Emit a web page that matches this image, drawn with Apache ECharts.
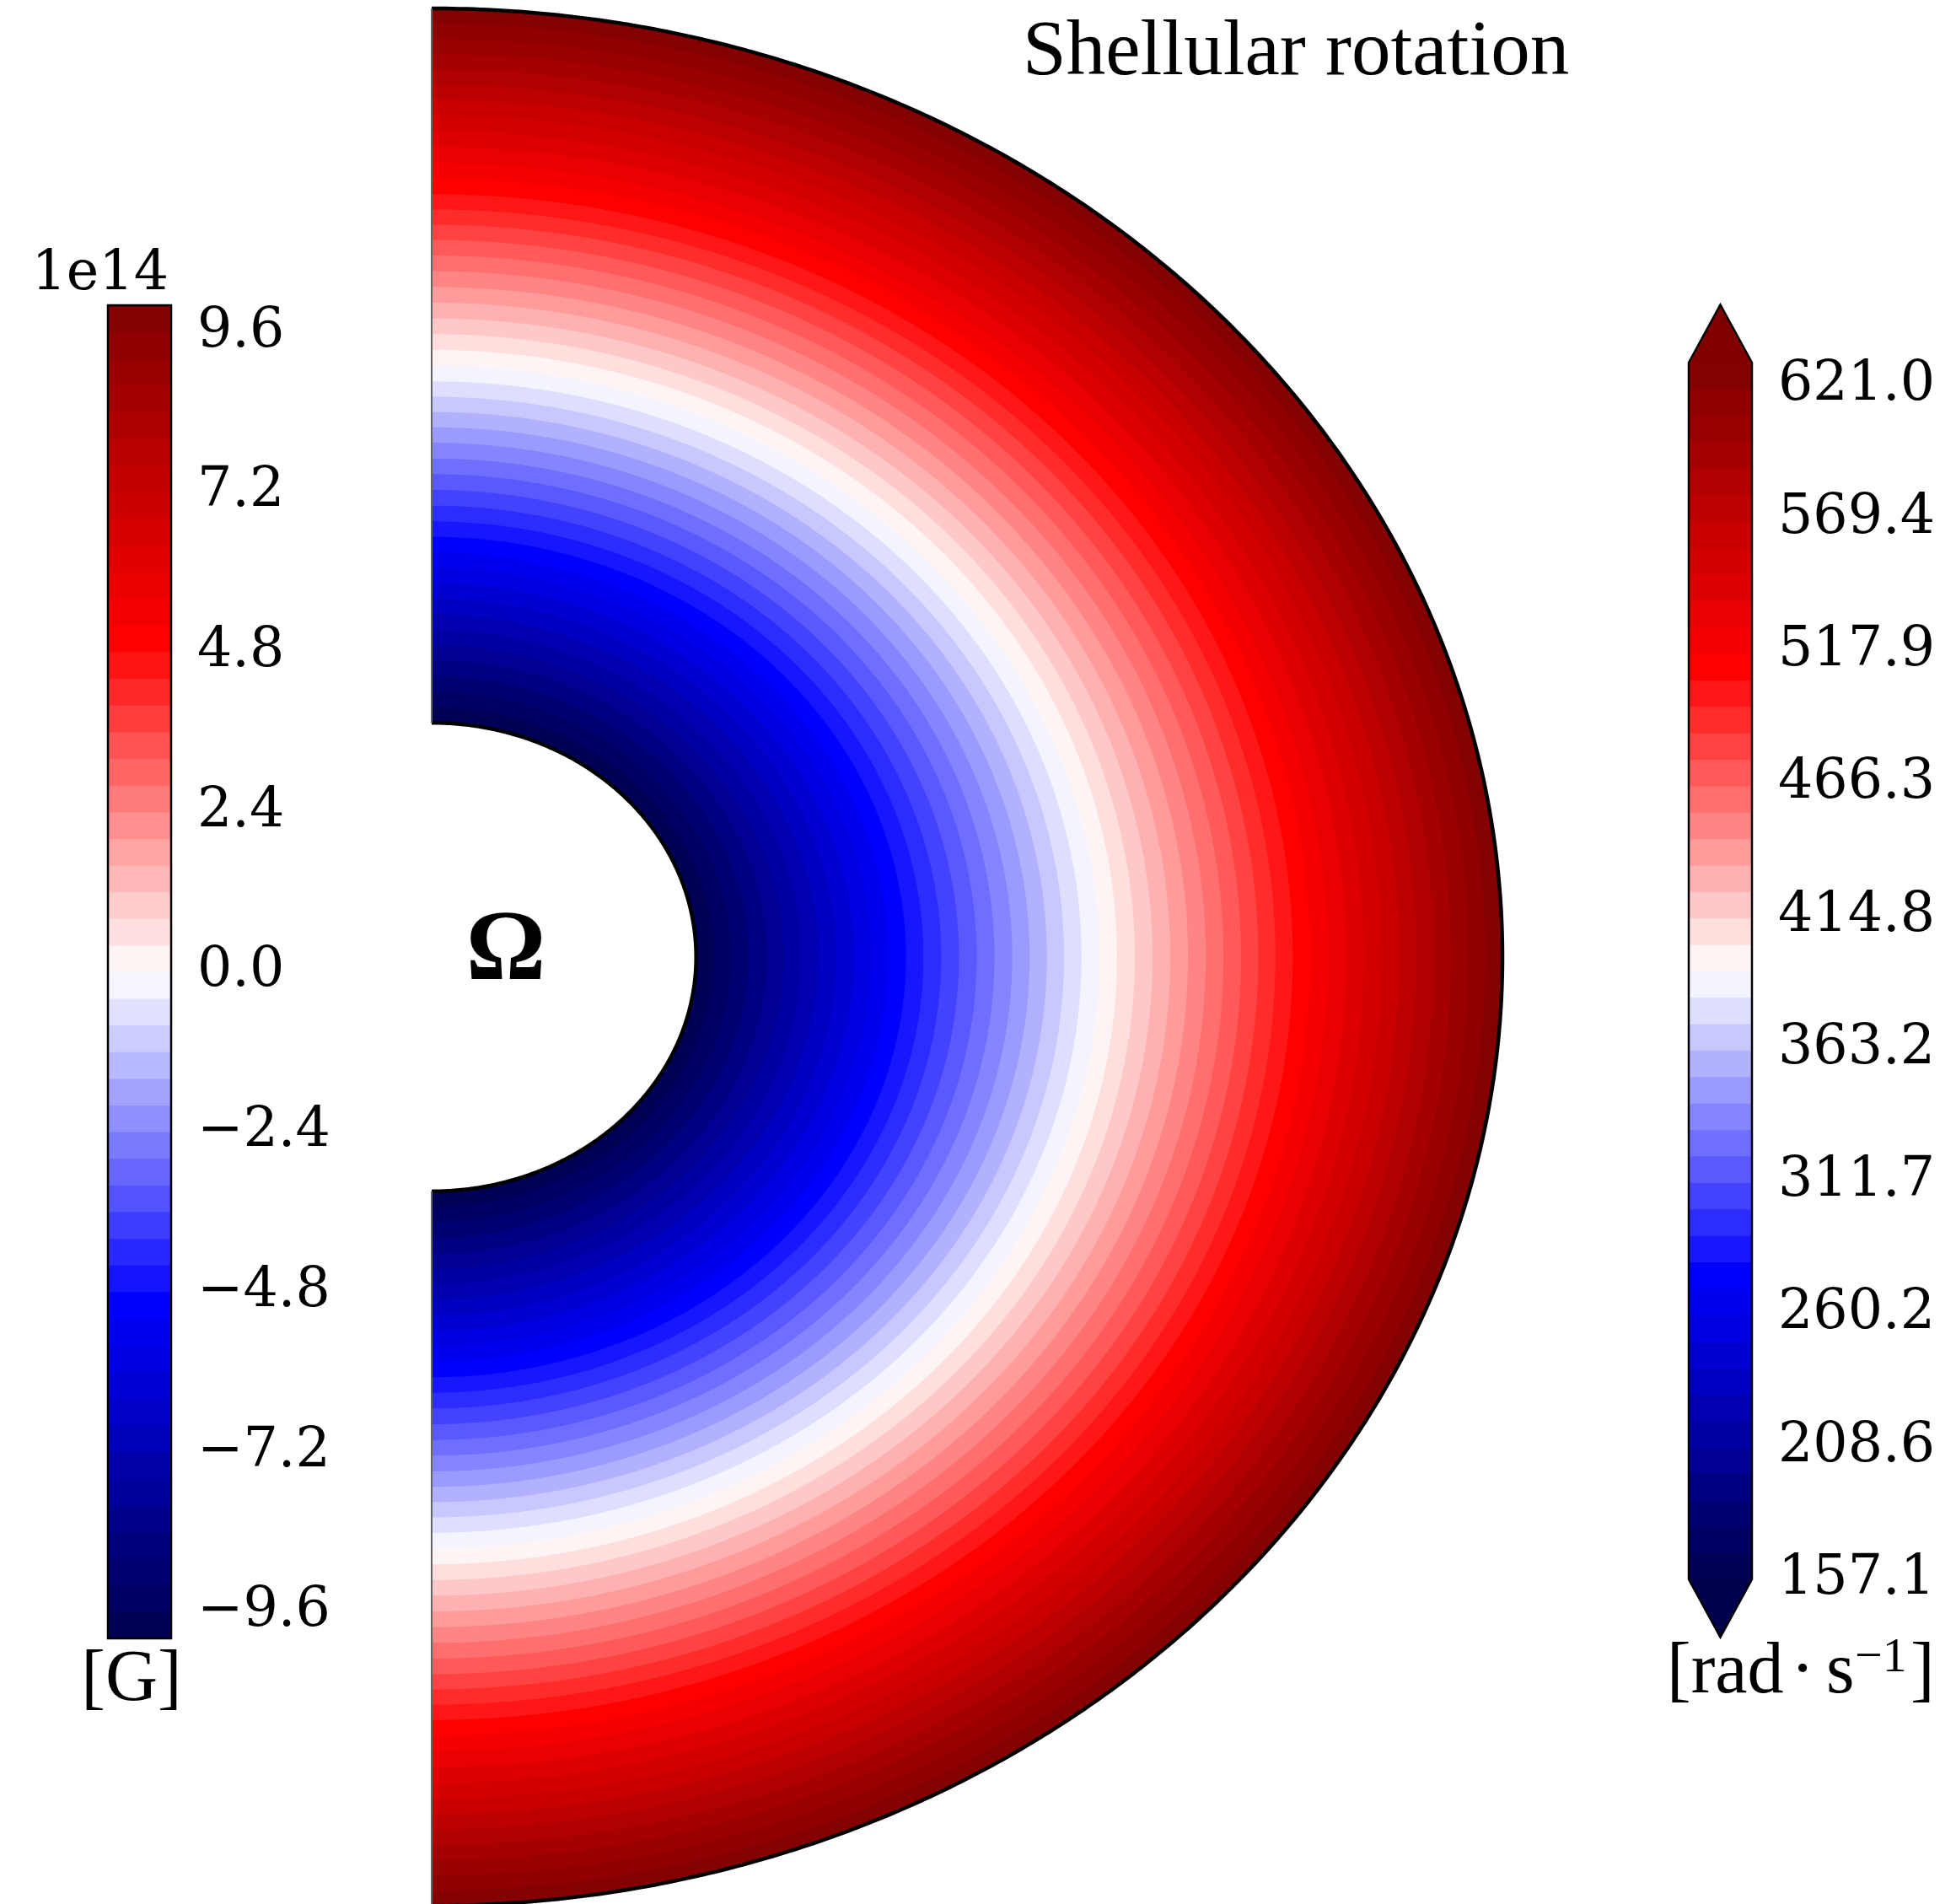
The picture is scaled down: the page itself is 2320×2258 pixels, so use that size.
<!DOCTYPE html>
<html>
<head>
<meta charset="utf-8">
<script src="https://cdn.jsdelivr.net/npm/echarts@6/dist/echarts.min.js"></script>
<style>
  html, body { margin: 0; padding: 0; background: #fff; }
  #chart { width: 2320px; height: 2258px; }
</style>
</head>
<body>
<div id="chart"></div>
<script>
// Shellular angular velocity profile Ω(r); r is normalised to the outer radius
const radius = [0.247, 0.30, 0.35, 0.40, 0.45, 0.50, 0.55, 0.60, 0.65, 0.70, 0.75, 0.80, 0.85, 0.90, 0.95, 1.00];
const omega  = [157, 190, 222, 253, 285, 316, 347, 379, 410, 441, 472, 504, 535, 566, 598, 630];

// Colour-bar tick labels
const omegaTicks = [157.1, 208.6, 260.2, 311.7, 363.2, 414.8, 466.3, 517.9, 569.4, 621.0];
const fieldTicks = [-9.6, -7.2, -4.8, -2.4, 0.0, 2.4, 4.8, 7.2, 9.6];

// Filled-contour level ranges and band counts
const omegaRange = [157.1, 630.0];
const omegaBands = 46;
const fieldRange = [-10, 10];
const fieldBands = 50;

// "seismic" colour map
const SEISMIC = [[0, 0, 76.5], [0, 0, 255], [255, 255, 255], [255, 0, 0], [127.5, 0, 0]];
function seismic(t) {
  t = Math.max(0, Math.min(1, t));
  const p = t * 4;
  const i = Math.min(3, Math.floor(p));
  const f = p - i;
  const a = SEISMIC[i], b = SEISMIC[i + 1];
  return 'rgb(' + a.map((v, j) => Math.round(v + (b[j] - v) * f)).join(',') + ')';
}

function levels(range, n) {
  const out = [];
  for (let k = 0; k <= n; k++) out.push(range[0] + (range[1] - range[0]) * k / n);
  return out;
}

// radius at which the monotonic profile reaches a given Ω
function radiusAt(v) {
  if (v <= omega[0]) return radius[0];
  for (let i = 1; i < omega.length; i++) {
    if (v <= omega[i]) {
      const f = (v - omega[i - 1]) / (omega[i] - omega[i - 1]);
      return radius[i - 1] + f * (radius[i] - radius[i - 1]);
    }
  }
  return radius[radius.length - 1];
}

// contour bands in the meridional plane, outermost first
const omegaLevels = levels(omegaRange, omegaBands);
const diskBands = [];
for (let k = omegaBands - 1; k >= 0; k--) {
  const lo = omegaLevels[k], hi = omegaLevels[k + 1];
  if (lo >= omega[omega.length - 1] || hi <= omega[0]) continue;
  diskBands.push([radiusAt(hi), (k + 0.5) / omegaBands]);
}

// colour-bar band items [lo, hi, t]
function barItems(range, n) {
  const lv = levels(range, n);
  const items = [];
  for (let k = 0; k < n; k++) items.push([lv[k], lv[k + 1], (k + 0.5) / n]);
  return items;
}
const fieldBar = barItems(fieldRange, fieldBands);
const omegaBar = barItems(omegaRange, omegaBands);
const EXTEND_FRAC = 0.0475;

function halfEllipse(api, r, steps) {
  const pts = [];
  for (let i = 0; i <= steps; i++) {
    const th = Math.PI * i / steps;
    pts.push(api.coord([r * Math.sin(th), r * Math.cos(th)]));
  }
  return pts;
}

const fmt = v => (v < -1e-9 ? '\u2212' : '') + Math.abs(v).toFixed(1);

const tickFont = { fontFamily: 'DejaVu Serif', fontSize: 65, color: '#000' };

function barAxis(gridIndex, range, ticks) {
  return {
    gridIndex, type: 'value', min: range[0], max: range[1], position: 'right',
    axisLine: { show: false },
    splitLine: { show: false },
    axisTick: { show: true, inside: false, length: 17, lineStyle: { color: '#000', width: 2.5 }, customValues: ticks },
    axisLabel: Object.assign({ customValues: ticks, margin: 31, formatter: fmt }, tickFont)
  };
}

function bandRender(params, api) {
  const lo = api.value(0), hi = api.value(1), t = api.value(2);
  const a = api.coord([0, hi]), b = api.coord([1, lo]);
  return {
    type: 'rect',
    shape: { x: a[0], y: a[1] - 0.5, width: b[0] - a[0], height: b[1] - a[1] + 1 },
    style: { fill: seismic(t) }
  };
}

const chart = echarts.init(document.getElementById('chart'), null, { renderer: 'canvas', width: 2320, height: 2258 });

const option = {
  backgroundColor: '#fff',
  animation: false,
  grid: [
    { left: 512, top: 10, width: 1270, height: 2250, containLabel: false, outerBoundsMode: 'none' },
    { left: 128, top: 362, width: 75, height: 1581, containLabel: false, outerBoundsMode: 'none' },
    { left: 2003, top: 430, width: 75, height: 1443, containLabel: false, outerBoundsMode: 'none' }
  ],
  xAxis: [
    { gridIndex: 0, type: 'value', min: 0, max: 1, show: false },
    { gridIndex: 1, type: 'value', min: 0, max: 1, show: false },
    { gridIndex: 2, type: 'value', min: 0, max: 1, show: false }
  ],
  yAxis: [
    { gridIndex: 0, type: 'value', min: -1, max: 1, show: false },
    barAxis(1, fieldRange, fieldTicks),
    barAxis(2, omegaRange, omegaTicks)
  ],
  series: [
    {
      // Ω(r) filled contours on the half meridional plane
      type: 'custom', xAxisIndex: 0, yAxisIndex: 0, silent: true, z: 1,
      data: diskBands,
      renderItem: (params, api) => ({
        type: 'polygon',
        shape: { points: halfEllipse(api, api.value(0), 480) },
        style: { fill: seismic(api.value(1)) }
      })
    },
    {
      // inner hole and boundaries of the shell
      type: 'custom', xAxisIndex: 0, yAxisIndex: 0, silent: true, z: 2,
      data: [[radius[0], radius[radius.length - 1]]],
      renderItem: (params, api) => {
        const rIn = api.value(0), rOut = api.value(1);
        const pIn = api.coord([0, rIn]), pOut = api.coord([0, rOut]);
        const qIn = api.coord([0, -rIn]), qOut = api.coord([0, -rOut]);
        return {
          type: 'group',
          children: [
            { type: 'polygon', shape: { points: halfEllipse(api, rIn, 360) }, style: { fill: '#fff' } },
            { type: 'polyline', shape: { points: halfEllipse(api, rOut, 480) }, style: { stroke: '#000', lineWidth: 4.5, fill: null } },
            { type: 'polyline', shape: { points: halfEllipse(api, rIn, 360) }, style: { stroke: '#000', lineWidth: 4.5, fill: null } },
            { type: 'line', shape: { x1: pIn[0], y1: pIn[1], x2: pOut[0], y2: pOut[1] }, style: { stroke: '#666', lineWidth: 2 } },
            { type: 'line', shape: { x1: qIn[0], y1: qIn[1], x2: qOut[0], y2: qOut[1] }, style: { stroke: '#666', lineWidth: 2 } }
          ]
        };
      }
    },
    {
      // magnetic-field colour bar
      type: 'custom', xAxisIndex: 1, yAxisIndex: 1, silent: true, z: 1,
      data: fieldBar, renderItem: bandRender
    },
    {
      type: 'custom', xAxisIndex: 1, yAxisIndex: 1, silent: true, z: 2,
      data: [[fieldRange[0], fieldRange[1]]],
      renderItem: (params, api) => {
        const a = api.coord([0, api.value(1)]), b = api.coord([1, api.value(0)]);
        return {
          type: 'rect',
          shape: { x: a[0], y: a[1], width: b[0] - a[0], height: b[1] - a[1] },
          style: { fill: null, stroke: '#000', lineWidth: 2.5 }
        };
      }
    },
    {
      // angular-velocity colour bar
      type: 'custom', xAxisIndex: 2, yAxisIndex: 2, silent: true, z: 1,
      data: omegaBar, renderItem: bandRender
    },
    {
      type: 'custom', xAxisIndex: 2, yAxisIndex: 2, silent: true, z: 2,
      data: [[omegaRange[0], omegaRange[1]]],
      renderItem: (params, api) => {
        const lo = api.value(0), hi = api.value(1);
        const ext = (hi - lo) * EXTEND_FRAC;
        const tl = api.coord([0, hi]), tr = api.coord([1, hi]), tt = api.coord([0.5, hi + ext]);
        const bl = api.coord([0, lo]), br = api.coord([1, lo]), bt = api.coord([0.5, lo - ext]);
        return {
          type: 'group',
          children: [
            { type: 'polygon', shape: { points: [tl, tt, tr] }, style: { fill: seismic(1), stroke: seismic(1), lineWidth: 1 } },
            { type: 'polygon', shape: { points: [bl, bt, br] }, style: { fill: seismic(0), stroke: seismic(0), lineWidth: 1 } },
            { type: 'polygon', shape: { points: [bt, bl, tl, tt, tr, br] }, style: { fill: null, stroke: '#000', lineWidth: 2.5 } }
          ]
        };
      }
    }
  ],
  graphic: {
    elements: [
      { type: 'text', x: 1213, y: 64, z: 100, silent: true,
        style: { text: 'Shellular rotation', font: '93px "Liberation Serif"', fill: '#000', align: 'left', verticalAlign: 'middle' } },
      { type: 'text', x: 600, y: 1131, z: 100, silent: true,
        style: { text: '\u03A9', font: 'bold 118px "Liberation Serif"', fill: '#000', align: 'center', verticalAlign: 'middle' } },
      { type: 'text', x: 200, y: 326, z: 100, silent: true,
        style: { text: '1e14', font: '65px "DejaVu Serif"', fill: '#000', align: 'right', verticalAlign: 'middle' } },
      { type: 'text', x: 156, y: 1993, z: 100, silent: true,
        style: { text: '[G]', font: '86px "Liberation Serif"', fill: '#000', align: 'center', verticalAlign: 'middle' } },
      { type: 'text', x: 1977, y: 1984, z: 100, silent: true,
        style: { text: '[rad', font: '86px "Liberation Serif"', fill: '#000', align: 'left', verticalAlign: 'middle' } },
      { type: 'text', x: 2138, y: 1984, z: 100, silent: true,
        style: { text: '\u00B7', font: '86px "Liberation Serif"', fill: '#000', align: 'center', verticalAlign: 'middle' } },
      { type: 'text', x: 2166, y: 1984, z: 100, silent: true,
        style: { text: 's', font: '86px "Liberation Serif"', fill: '#000', align: 'left', verticalAlign: 'middle' } },
      { type: 'text', x: 2200, y: 1967, z: 100, silent: true,
        style: { text: '\u22121', font: '58px "Liberation Serif"', fill: '#000', align: 'left', verticalAlign: 'middle' } },
      { type: 'text', x: 2266, y: 1984, z: 100, silent: true,
        style: { text: ']', font: '86px "Liberation Serif"', fill: '#000', align: 'left', verticalAlign: 'middle' } }
    ]
  }
};

chart.setOption(option);
</script>
</body>
</html>
